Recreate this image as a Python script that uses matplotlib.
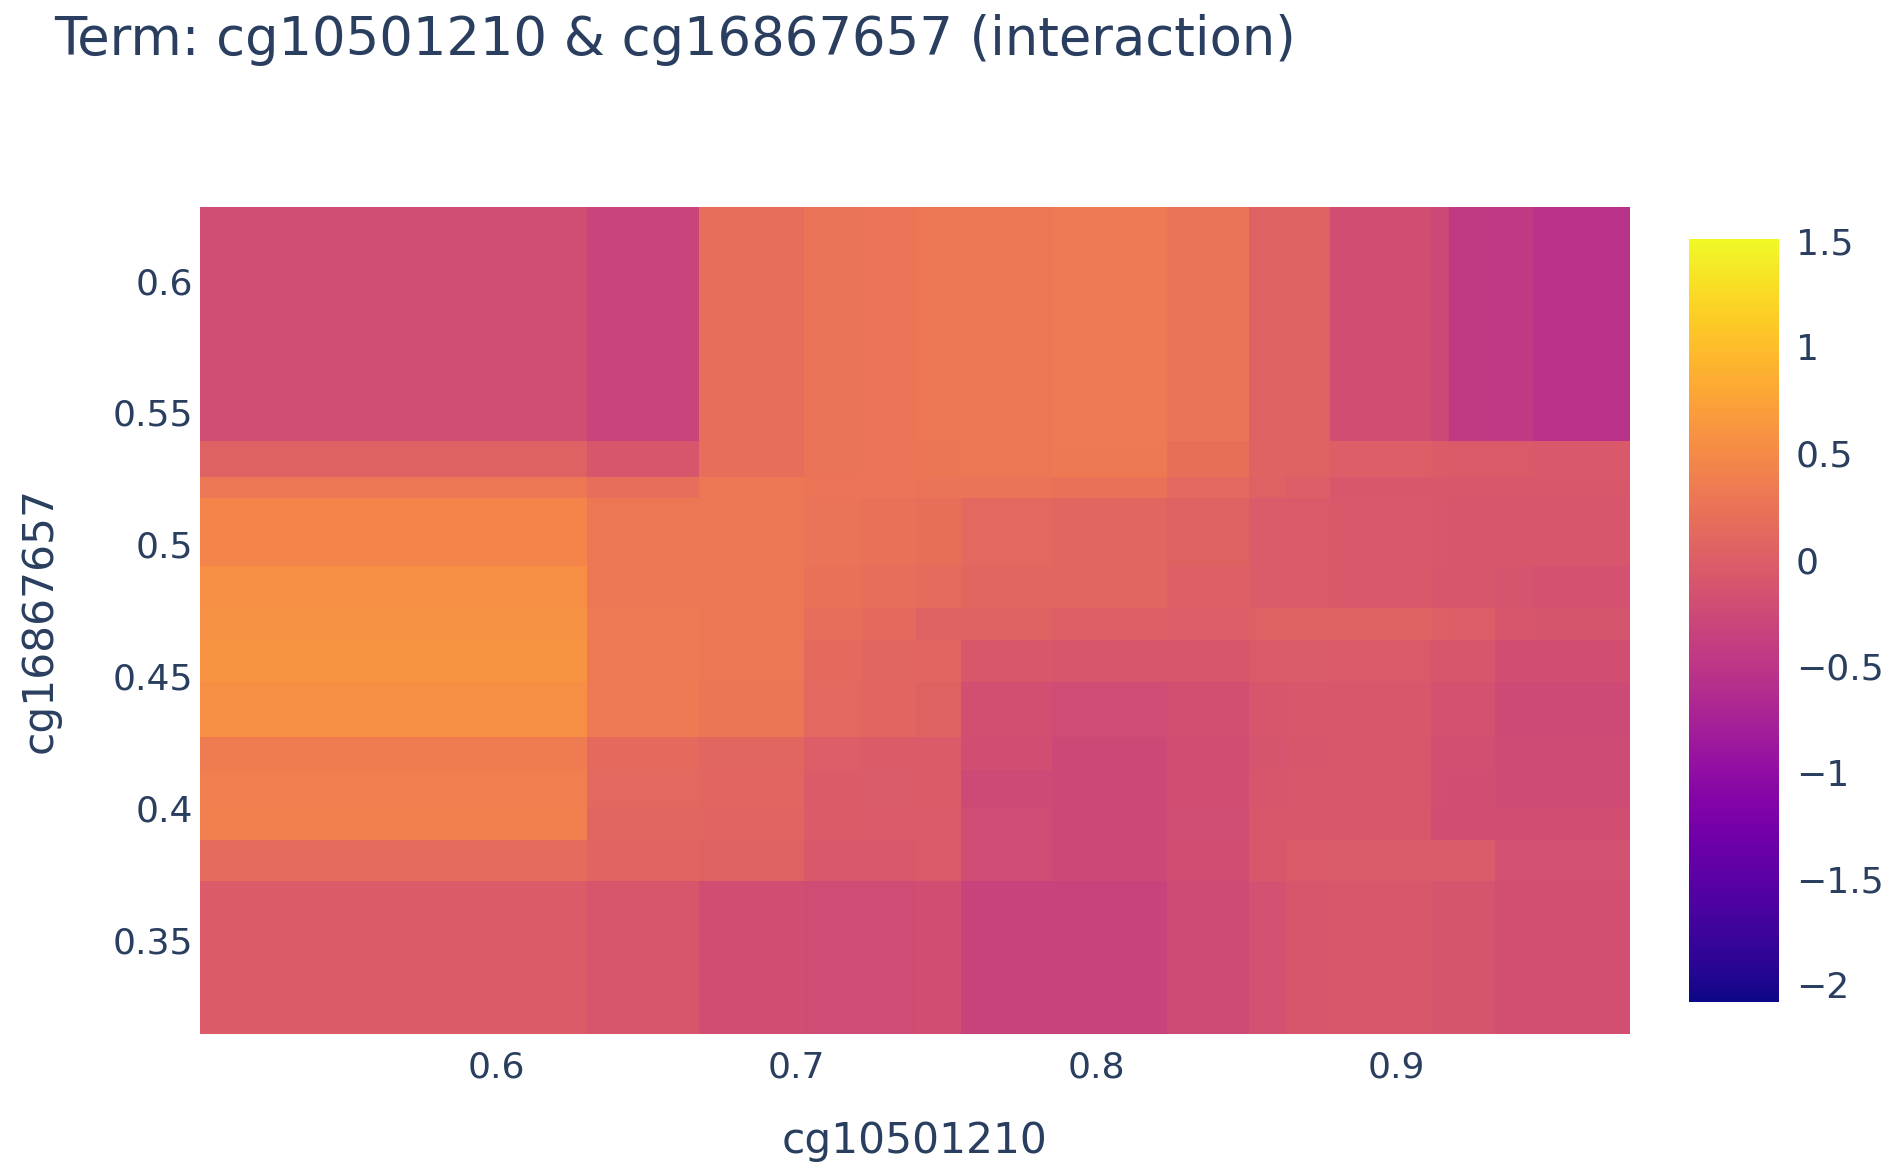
import numpy as np
import matplotlib
matplotlib.use("Agg")
import matplotlib.pyplot as plt

# bordi delle celle (cg10501210 sull'asse x, cg16867657 sull'asse y, dall'alto in basso)
x_bordi = [0.5012, 0.6301, 0.6675, 0.7024, 0.7217, 0.7398, 0.7550, 0.7851, 0.8237,
           0.8510, 0.8631, 0.8779, 0.9116, 0.9177, 0.9329, 0.9454, 0.9779]
y_bordi = [0.6279, 0.5392, 0.5255, 0.5177, 0.4917, 0.4757, 0.4638, 0.4478,
           0.4268, 0.4144, 0.4003, 0.3879, 0.3724, 0.3144]

# valori del termine di interazione, una riga per fascia (dall'alto in basso)
valori = [
    [-0.21, -0.32, 0.18, 0.26, 0.27, 0.29, 0.30, 0.32, 0.25, 0.04, 0.04, -0.20, -0.26, -0.45, -0.46, -0.54],
    [0.03, -0.10, 0.18, 0.25, 0.27, 0.28, 0.29, 0.31, 0.20, 0.06, 0.04, 0.00, -0.02, -0.06, -0.06, -0.07],
    [0.30, 0.18, 0.29, 0.27, 0.27, 0.26, 0.25, 0.22, 0.12, 0.03, 0.00, -0.08, -0.08, -0.08, -0.08, -0.08],
    [0.45, 0.30, 0.30, 0.25, 0.22, 0.20, 0.12, 0.10, 0.04, -0.04, -0.05, -0.07, -0.08, -0.10, -0.10, -0.10],
    [0.55, 0.30, 0.30, 0.22, 0.18, 0.16, 0.10, 0.10, 0.02, -0.04, -0.06, -0.07, -0.10, -0.10, -0.13, -0.15],
    [0.58, 0.32, 0.30, 0.18, 0.14, 0.06, 0.04, 0.02, 0.00, 0.03, 0.03, 0.03, 0.02, 0.00, -0.10, -0.12],
    [0.60, 0.33, 0.30, 0.14, 0.10, 0.08, -0.08, -0.10, -0.10, -0.05, -0.04, -0.05, -0.10, -0.10, -0.20, -0.20],
    [0.55, 0.32, 0.28, 0.12, 0.08, 0.05, -0.18, -0.22, -0.18, -0.10, -0.08, -0.08, -0.15, -0.15, -0.25, -0.25],
    [0.35, 0.14, 0.10, 0.00, -0.03, -0.03, -0.20, -0.27, -0.20, -0.12, -0.10, -0.08, -0.18, -0.18, -0.24, -0.24],
    [0.38, 0.12, 0.08, -0.02, -0.04, -0.03, -0.25, -0.27, -0.20, -0.10, -0.08, -0.08, -0.18, -0.20, -0.23, -0.23],
    [0.40, 0.10, 0.07, -0.03, -0.05, -0.05, -0.22, -0.27, -0.21, -0.08, -0.08, -0.08, -0.20, -0.20, -0.20, -0.20],
    [0.15, 0.07, 0.04, -0.07, -0.07, -0.05, -0.22, -0.27, -0.20, -0.08, -0.06, -0.04, -0.04, -0.04, -0.17, -0.17],
    [-0.03, -0.10, -0.20, -0.22, -0.22, -0.20, -0.33, -0.33, -0.24, -0.16, -0.10, -0.08, -0.12, -0.12, -0.18, -0.18],
]

x_tick = [0.6, 0.7, 0.8, 0.9]
x_etichette = ["0.6", "0.7", "0.8", "0.9"]
y_tick = [0.35, 0.4, 0.45, 0.5, 0.55, 0.6]
y_etichette = ["0.35", "0.4", "0.45", "0.5", "0.55", "0.6"]
cb_tick = [1.5, 1, 0.5, 0, -0.5, -1, -1.5, -2]
cb_etichette = ["1.5", "1", "0.5", "0", "\u22120.5", "\u22121", "\u22121.5", "\u22122"]

scala_min, scala_max = -2.08, 1.51
colore_testo = "#2a3f5f"

fig = plt.figure(figsize=(18.89, 11.74), dpi=100)
asse = fig.add_axes([200 / 1889, 1 - 1034 / 1174, 1430 / 1889, 827 / 1174])

mappa = asse.pcolormesh(x_bordi, y_bordi, np.array(valori), cmap="plasma",
                        vmin=scala_min, vmax=scala_max, shading="flat")
asse.set_xlim(x_bordi[0], x_bordi[-1])
asse.set_ylim(y_bordi[-1], y_bordi[0])

asse.set_xticks(x_tick)
asse.set_xticklabels(x_etichette)
asse.set_yticks(y_tick)
asse.set_yticklabels(y_etichette)
asse.tick_params(axis="x", length=0, pad=12, labelsize=26, labelcolor=colore_testo)
asse.tick_params(axis="y", length=0, pad=5, labelsize=26, labelcolor=colore_testo)
for lato in asse.spines.values():
    lato.set_visible(False)

# barra dei colori
asse_cb = fig.add_axes([1689 / 1889, 1 - 1002 / 1174, 90 / 1889, 763.5 / 1174])
barra = fig.colorbar(mappa, cax=asse_cb)
barra.outline.set_visible(False)
barra.set_ticks(cb_tick)
barra.set_ticklabels(cb_etichette)
asse_cb.tick_params(length=0, pad=12, labelsize=26, labelcolor=colore_testo)

# titolo ed etichette degli assi
fig.text(54 / 1889, 1 - 40 / 1174, "Term: cg10501210 & cg16867657 (interaction)",
         fontsize=38, color=colore_testo, ha="left", va="center")
fig.text(915 / 1889, 1 - 1141 / 1174, "cg10501210", fontsize=30.5,
         color=colore_testo, ha="center", va="center")
fig.text(40 / 1889, 1 - 620 / 1174, "cg16867657", fontsize=30.5, rotation=90,
         color=colore_testo, ha="center", va="center")

fig.savefig("out.png", dpi=100, facecolor="white")
